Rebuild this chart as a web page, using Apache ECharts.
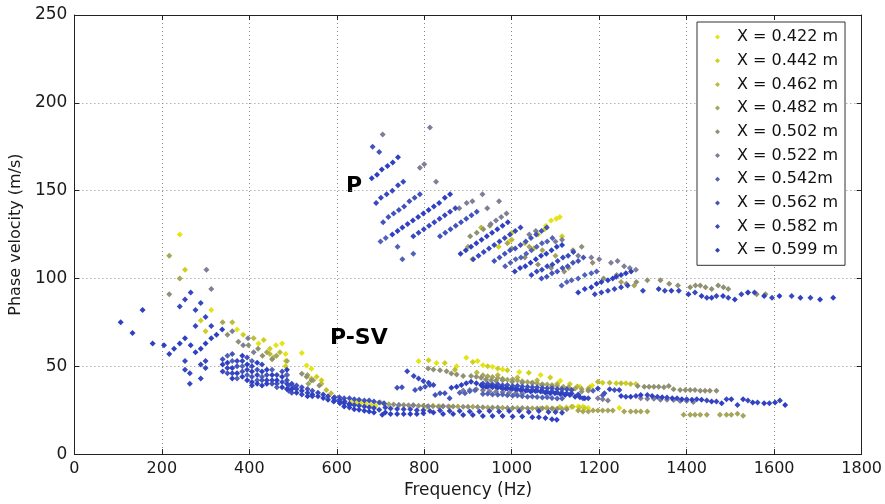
<!DOCTYPE html>
<html><head><meta charset="utf-8">
<script src="https://cdn.jsdelivr.net/npm/echarts@6/dist/echarts.min.js"></script>
<style>html,body{margin:0;padding:0;background:#fff}#c{width:885px;height:504px}</style>
</head><body><div id="c"></div>
<script>
// ---- legend names & colours ----
const seriesNames = ['X = 0.422 m','X = 0.442 m','X = 0.462 m','X = 0.482 m','X = 0.502 m','X = 0.522 m','X = 0.542m','X = 0.562 m','X = 0.582 m','X = 0.599 m'];
const seriesColors = ['#e4e415','#cfcf1e','#bcbc3a','#a5a55c','#909073','#7e7e98','#5262b8','#4253bd','#3848c0','#2f40c2'];

// ---- data: [frequency (Hz), phase velocity (m/s)] ----
const s422 = [[1078,130],[1090,133],[1102,134],[1110,135],[994,121],
[241,125],[313,82],[372,71],[421,63],[461,62],[475,63],[483,57],[483,53],
[520,57.5],[531,50.5],[542,48.6],
[633,29.4],[644,29.4],[655,29],[666,28.6],[678,28],[689,27.5],[1152,27.1],[1163,27.1],[1175,26.2],[1246,26.2],
[787,52.8],[828,51.9],[874,50],[896,54.9],[922,53],[934,50.6],[956,49.7],[979,48.1],[1017,46.8],[1066,45],[1111,41.8],[1156,38.4],[1184,39]];

const s442 = [[1000,126],[1060,125],[1075,128],[1115,124],[970,118],
[253,105],[289,76],[300,70],[386,68],[433,65],[447,60],[483,50],
[542,43],[554,44],[565,42],
[806,27],[820,27.5],[835,27.3],[858,27],[1065,26],[1080,26.5],[1095,26],[1110,26.8],[1125,26.5],[1140,27],[1155,26.5],[1167,26.2],
[1208,40.6],[1239,40.3],[1261,40.3],[1284,39.9],
[810,53.4],[847,51.9],[911,52.5],[945,50],[968,48.7],[990,47.8],[1039,46.3],[1088,43.6],[1133,39.9],[1178,38]];

const s462 = [[910,111],[930,129],[1000,122],[1030,120],[1050,117],
[361,75],[410,66],[447,57],[470,58],[455,55],
[576,36.5],[587,34.6],[565,40],
[700,29.4],[1137,27],
[1197,41.2],[1224,40.6],[1250,40.3],[1272,39.9],
[870,48],[920,46.5],[968,45],[1013,43.6],[1058,42],[1104,40],[1150,38.5]];

const s482 = [[900,118],[990,120],[1040,118],[1070,116],[1100,113],[1130,106],[1250,98],[1280,96],
[217,113],[241,100],[339,75],[440,58],[462,56],[486,53],
[533,45],[546,42],[535,40],
[719,28.4],[742,28],[775,27.8],[809,27.3],[843,27.3],[877,27.1],[911,26.9],[945,26.6],[979,26.4],[1013,26.2],[1047,26.1],[1081,26],[1115,25.7],
[1152,24.8],[1163,24.3],[1175,24.3],[1186,24.8],[1197,24.8],[1208,24.8],[1220,24.8],[1231,24.8],[1257,24.3],[1272,24.3],[1284,24.3],[1295,24.3],[1310,24.3],
[1393,22.4],[1408,22.4],[1419,22.4],[1431,22.4],[1446,22.4],[1476,22.4],[1491,22.4],[1502,22.4],[1516,23],[1529,21.8],
[934,44.9],[945,44.3],[956,43.9],[968,43.3],[979,42.9],[990,42.4],[1002,42.6],[1013,41.9],[1024,41.5],[1036,41.1],[1047,40.7],[1058,40.3],[1070,39.7],[1081,39.6],[1092,39.3],[1104,38.9],[1118,38.3],[1130,38],[1145,37.4],[1160,37.1],[1175,37]];

const s502 = [[905,124],[920,126],[935,128],[950,130],[1000,117],[1030,112],[1060,108],[1090,106],[1120,104],[1140,116],[1160,118],[1185,109],[1210,100],[1240,102],
[1262,97],[1285,98],[1310,99],[1340,99],[1360,97],[1380,96],[1408,95],[1420,96],[1431,96],[1443,95],[1457,94],[1472,96],[1484,95],[1495,94],[1540,92],[1560,91],[1580,91],
[217,91],[350,68],[375,64],[398,62],[420,60],[430,56],[452,54],
[520,45.8],[531,44],[542,42],[560,39],
[708,28.6],[730,28.2],[753,28],[764,27.8],[787,27.5],[798,27.5],[820,27.3],[832,27.1],[855,27.1],[866,27.1],[889,27],[900,27],[922,26.8],[934,26.7],[956,26.5],[968,26.5],[990,26.3],[1002,26.3],[1024,26.2],[1036,26.1],[1058,26],[1070,26.1],[1092,26],[1104,25.8],[1126,25.5],
[809,48.7],[821,48.1],[836,47.8],[851,47.2],[862,45.9],[874,45.3],[889,44.4],[907,44.4],[919,44],[930,43.5],[941,42.5],[953,42.1],[964,41.8],[979,42.1],[1001,41.2],[1024,40.6],[1047,40.3],[1069,39.3],[1092,38.4],[1114,37.4],[1137,36.5],[1160,35.6],[1175,36.1],
[1288,38.8],[1303,38.4],[1314,38.4],[1325,38.4],[1336,38.4],[1348,38],[1359,38.8],[1370,36.9],[1385,36.5],[1397,36.5],[1408,36.5],[1419,36.5],[1431,36.1],[1442,36.1],[1453,36.1],[1468,36.1]];

const s522 = [[705,182],[790,163],[800,165],[827,155],[897,143],[910,144],[933,148],[944,140],[971,144],[880,140],[952,131],[964,133],[976,135],[988,137],[1040,125],[1055,127],[1100,121],[1115,122],[1152,113],[1182,112],[1200,111],[1227,109],[1242,110],[1257,107],[1270,106],[1284,105],[813,186],
[302,105],[313,94],[361,70],[397,66],[386,62],[410,58],[486,45],
[1197,31.8],[1208,31.2],[1220,30.5],[1295,31.8],[1310,31.5],[1325,31.5],[1340,31],[1355,31],[1370,30.8],[1385,30.2],[1400,30.2],[1415,29.6],
[889,36.2],[904,36.5],[919,36.9],[934,36.4],[949,35.8],[964,35.5],[979,35.3],[994,34.9],[1009,34.6],[1024,34.4],
[742,28],[775,27.8],[809,27.3],[843,27.3]];

const s542 = [[700,121],[712,123],[739,118],[750,111],[775,114],
[985,107],[997,109],[1009,111],[1021,112],[1033,114],[1045,116],[1057,118],[1069,120],[1081,121],[1093,123],
[1114,96],[1126,98],[1137,99],[1152,100],[1167,102],[1182,103],[1194,104],
[350,56],[361,53],[372,43],[384,50],[395,45],[406,53],[418,42],[429,44],[452,48],[463,38],[486,45],
[934,34.2],[945,34.4],[956,34],[968,33.8],[979,33.9],[990,33.5],[1002,33.2],[1013,33.3],[1024,33],[1036,32.7],[1047,32.8],[1058,32.5],[1070,32.2],[1081,32.3],[1092,31.9],[1104,31.7],[1115,31.6],
[881,35],[893,34.6],[904,35.8],[916,36.3],[1186,36],[1208,33.5]];

const s562 = [[706,132],[718,135],[730,137],[742,139],[754,141],[766,144],[778,146],[790,148],
[836,124],[848,126],[860,128],[872,130],[884,132],[896,134],[908,136],[920,138],
[960,110],[972,112],[984,114],[996,116],[1008,117],[1020,119],[1032,121],[1044,123],[1056,125],[1068,127],[1080,129],
[1068,100],[1080,101],[1092,103],[1104,104],[1116,106],[1128,107],[1140,109],[1152,110],[1164,112],
[682,175],[697,172],
[339,54],[350,46],[361,57],[372,50],[384,47],[395,55],[406,44],[418,48],[429,42],[440,45],[452,40],[463,40],[475,47],[486,42],
[497,35],[508,39],[520,38],[533,37],[544,36],[490,39],[490,36],[502,38],
[738,37.8],[749,38],[779,36.5],[791,37.4],[802,38.4],[813,39.3],[825,33.7],[836,34.6],[847,34.6],[858,31.8],
[934,40.2],[945,40],[956,39.6],[968,39.7],[979,39.2],[990,39.3],[1002,38.8],[1013,38.9],[1024,38.5],[1036,38.4],[1047,38],[1058,38.1],[1070,37.7],[1081,37.5],[1092,37.5],[1104,37.1],[1115,36.9],[1126,36.9],[1137,36.5],
[595,32.4],[606,32.4],[617,31.8],[629,31.8],[640,31.2],[651,30.9],[663,30.5],[674,30.5],[685,29.9],[697,29.4],[708,29],
[1212,34.6],[1235,36.5]];

const s582 = [[690,143],[701,146],[714,148],[727,150],[740,153],[752,155],
[775,124],[787,126],[799,128],[811,130],[823,132],[835,134],[847,136],[859,138],[871,140],
[912,111],[924,113],[936,115],[948,117],[960,119],[972,121],[984,123],[996,125],[1008,127],[1020,129],
[1045,102],[1057,104],[1069,105],[1081,107],[1093,108],[1105,110],[1117,112],[1129,113],[1141,115],
[1190,91],[1205,92],[1220,93],[1235,94],[1250,95],[1265,96],
[1300,93],[1350,93],[1382,93],[1419,92],[1446,89],[1468,90],[1495,89],[1525,91],[1555,92],[1595,89],[1640,90],[1683,89],
[241,84],[253,88],[266,92],[277,82],[289,86],[300,78],[313,73],[277,73],[253,53],[253,48],[264,46],[264,40],[289,51],[289,43],[300,53],[300,49],
[339,47],[350,49],[361,46],[372,53],[384,53],[395,48],[406,50],[406,39],[418,45],[429,51],[440,42],[452,42],[463,45],[475,41],[486,40],
[497,40],[508,37],[520,34],[533,35],[544,33],[557,35],[569,34],[580,33],[593,32],[607,31],
[595,30.5],[606,29.9],[617,29],[629,28.6],[640,28],[651,27.5],[663,27.1],[674,26.7],[685,26.2],[697,25.2],
[711,26.5],[723,26],[738,25.7],[753,25.5],[768,25.5],[783,25],[798,25],[813,24.5],[836,24.8],[858,24.5],[881,24.5],[904,24.3],[926,24.3],[949,24.5],[971,24.3],[994,24.5],[1017,24.5],[1039,24],[1062,24.5],[1084,24],[1100,24],[1115,23.5],
[934,38.3],[945,38.4],[956,38],[968,37.8],[979,37.5],[990,37.5],[1002,37.2],[1013,36.9],[1024,36.8],[1036,36.5],[1047,36.2],[1058,36.1],[1070,35.9],[1081,35.5],[1092,35.6],[1104,35.1],[1115,35],[1126,34.6],[1137,34.5],[1152,34],[1163,31.8],[1175,31.8],
[761,47.2],[776,44.4],[787,43.1],[798,41.6],[810,40.6],[821,39.3],
[1197,37.4],[1224,36.9],[1246,36.5],[1261,32.7],[1284,33.1],[1310,33.7],[1333,32.7],[1355,32.2],[1378,31.8],[1400,31.2],[1423,31.2],[1446,30.5],[1468,29.9],[1491,31.2],[1516,28],[1540,30.5],[1562,29.4],[1589,29],[1613,30.5]];

const s599 = [[680,157],[692,159],[703,162],[716,164],[728,166],[740,169],
[727,125],[739,127],[750,129],[762,131],[774,133],[786,135],[798,137],[810,139],[822,141],[834,143],[847,146],[859,148],
[883,114],[895,116],[907,118],[919,120],[931,122],[943,124],[955,126],[967,128],[979,130],[991,132],
[1007,104],[1019,106],[1031,107],[1043,109],[1055,111],[1067,113],[1079,114],[1091,116],[1103,118],[1115,119],
[1152,92],[1167,94],[1182,95],[1194,97],[1205,98],[1220,99],[1231,100],[1239,101],[1250,102],[1261,103],[1273,104],
[1336,94],[1365,93],[1404,91],[1434,90],[1457,89],[1483,90],[1510,88],[1540,92],[1577,90],[1612,90],[1660,89],[1705,88],[1735,89],
[106,75],[133,69],[156,82],[179,63],[205,62],[217,57],[228,60],[241,63],[253,66],[266,62],[277,58],[289,60],[300,63],[313,66],[325,68],[338,71],
[339,51],[350,52],[361,49],[361,43],[372,46],[384,56],[384,44],[395,51],[395,42],[406,47],[406,41],[418,52],[418,40],[429,47],[429,39],[440,48],[440,40],[452,45],[463,42],[475,44],[475,38],[486,48],[486,37],
[497,37],[508,35],[520,36],[533,33],[544,34],[557,33],[569,32],[580,31],[593,30],[607,29],[618,30],[629,28],
[617,27.1],[629,26.5],[640,25.6],[651,25.2],[663,24.7],[674,24.3],[685,23.7],[704,22.4],
[711,23.7],[723,22.9],[738,22.9],[753,22.9],[768,22.9],[783,22.9],[798,23.3],[821,23.7],[843,22.9],[866,22.9],[889,22.3],[911,22.3],[934,21.7],[956,21.7],[979,21.7],[1002,21.4],[1024,21.4],[1047,21],[1062,21],[1077,20.5],[1092,19.8],[1103,19.6],
[862,37.8],[874,38.4],[885,39.3],[896,40.3],[907,41.2],[919,40.3],[930,39.3],[941,38.4],[953,38.8],[964,38.4],[975,38],[986,37.4],[998,37.4],[1009,36.9],[1020,36.5],[1032,36.1],[1043,35.6],[1054,35.9],[1066,35.6],[1077,35],[1088,34.6],[1099,34.6],[1111,34.2],[1122,33.7],[1133,33.7],[1145,32.7],[1156,32.4],[1167,31.8],
[1250,33.1],[1272,32.7],[1295,33.7],[1321,33.1],[1344,32.4],[1367,31.8],[1389,31.2],[1412,30.9],[1434,30.9],[1457,29.9],[1480,29],[1502,31.2],[1529,31.2],[1551,29.4],[1577,29],[1602,29.4],[1625,28]];

const allData = [s422,s442,s462,s482,s502,s522,s542,s562,s582,s599];
const FONT = 'DejaVu Sans';

const chart = echarts.init(document.getElementById('c'), null, {renderer:'canvas'});
const axisCommon = {
  type:'value',
  axisLine:{show:true, onZero:false, lineStyle:{color:'#222', width:1}},
  axisTick:{show:true, inside:true, length:5, lineStyle:{color:'#222'}},
};
chart.setOption({
  animation:false,
  backgroundColor:'#fff',
  grid:{left:70, right:18, top:15, bottom:46, containLabel:false},
  xAxis:[
    Object.assign({}, axisCommon, {min:0, max:1800, interval:200, position:'bottom',
      axisLabel:{color:'#1a1a1a', fontFamily:FONT, fontSize:16, margin:7, formatter: v => String(v)},
      splitLine:{show:true, lineStyle:{color:'#8a8a8a', type:[1,3], width:1}},
      name:'Frequency (Hz)', nameLocation:'middle', nameGap:27,
      nameTextStyle:{color:'#1a1a1a', fontFamily:FONT, fontSize:17}}),
    Object.assign({}, axisCommon, {min:0, max:1800, interval:200, position:'top',
      axisLabel:{show:false}, splitLine:{show:false}})
  ],
  yAxis:[
    Object.assign({}, axisCommon, {min:0, max:250, interval:50, position:'left',
      axisLabel:{color:'#1a1a1a', fontFamily:FONT, fontSize:17, margin:7, formatter: v => String(v)},
      splitLine:{show:true, lineStyle:{color:'#8a8a8a', type:[1,3], width:1}},
      name:'Phase velocity (m/s)', nameLocation:'middle', nameGap:38,
      nameTextStyle:{color:'#1a1a1a', fontFamily:FONT, fontSize:16}}),
    Object.assign({}, axisCommon, {min:0, max:250, interval:50, position:'right',
      axisLabel:{show:false}, splitLine:{show:false}})
  ],
  legend:{
    orient:'vertical', left:697, top:22, selectedMode:false,
    backgroundColor:'#fff', borderColor:'#333', borderWidth:1, borderRadius:0,
    padding:[7,7,7,18], itemGap:7.7, itemWidth:5, itemHeight:5,
    formatter: n => '{s|}' + n,
    textStyle:{color:'#111', fontFamily:FONT, fontSize:16, lineHeight:16, rich:{s:{width:12}}},
    data: seriesNames.map(n => ({name:n, icon:'diamond'}))
  },
  series: allData.map((d,i) => ({
    type:'scatter', name:seriesNames[i], data:d,
    symbol:'diamond', symbolSize:6,
    itemStyle:{color:seriesColors[i], opacity:1},
    emphasis:{disabled:true}
  })),
  graphic:[
    {type:'text', left:346, top:175, style:{text:'P', font:'bold 22px "DejaVu Sans"', fill:'#000'}},
    {type:'text', left:330, top:327, style:{text:'P-SV', font:'bold 22px "DejaVu Sans"', fill:'#000'}}
  ]
});
</script></body></html>
